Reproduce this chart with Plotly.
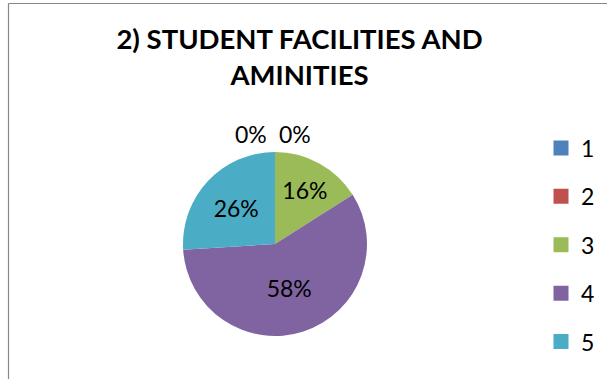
import math
import plotly.graph_objects as go

categories = ["1", "2", "3", "4", "5"]
values = [0, 0, 16, 58, 26]
colors = ["#4F81BD", "#C0504D", "#9BBB59", "#8064A2", "#4BACC6"]
title_text = "2) STUDENT FACILITIES AND<br>AMINITIES"

W, H = 607, 379
FONT = "Lato"


def px(X):
    return X / W


def py(Y):
    return 1 - Y / H


cx, cy, r = 275, 244, 92  # page pixels

total = sum(values)
inside_pos = ["none" if v == 0 else "inside" for v in values]

fig = go.Figure()
fig.add_trace(go.Pie(
    labels=categories,
    values=values,
    marker=dict(colors=colors, line=dict(color="white", width=0)),
    sort=False,
    direction="clockwise",
    rotation=0,
    texttemplate="%{percent:.0%}",
    textposition=inside_pos,
    insidetextorientation="horizontal",
    textfont=dict(family=FONT, size=23, color="black"),
    showlegend=False,
    hoverinfo="label+percent",
    domain=dict(x=[px(cx - r), px(cx + r)], y=[py(cy + r), py(cy - r)]),
))

for cat, col in zip(categories, colors):
    fig.add_trace(go.Scatter(
        x=[None], y=[None], mode="markers", name=cat, legendgroup=cat,
        marker=dict(symbol="square", size=15, color=col, line=dict(width=0)),
        showlegend=True, hoverinfo="skip",
    ))

annotations = []
zero_idx = [i for i, v in enumerate(values) if v == 0]
cum = 0.0
for i, v in enumerate(values):
    if v == 0:
        ang = cum / total * 2 * math.pi
        k = zero_idx.index(i)
        dx = (-24 if k == 0 else 20)
        ax = cx + (r + 18) * math.sin(ang) + dx
        ay = cy - (r + 18) * math.cos(ang)
        annotations.append(dict(
            text=f"{round(v / total * 100)}%", x=px(ax), y=py(ay),
            xref="paper", yref="paper", showarrow=False, xanchor="center", yanchor="middle",
            font=dict(family=FONT, size=23, color="black")))
    cum += v

fig.update_layout(
    width=W, height=H,
    margin=dict(l=0, r=0, t=0, b=0),
    paper_bgcolor="white",
    plot_bgcolor="white",
    font=dict(family=FONT, color="black"),
    xaxis=dict(visible=False),
    yaxis=dict(visible=False),
    title=dict(text=title_text, x=299.5 / W, xanchor="center",
               y=1 - 49 / H, yanchor="middle", yref="container",
               font=dict(family=FONT, size=27.5, color="black", weight="bold")),
    legend=dict(x=px(541), y=py(126.5), xanchor="left", yanchor="top",
                font=dict(family=FONT, size=23, color="black"),
                itemwidth=30, tracegroupgap=15.5, bgcolor="rgba(0,0,0,0)"),
    annotations=annotations,
    shapes=[
        dict(type="line", xref="paper", yref="paper", x0=px(8.5), x1=1, y0=py(3.5), y1=py(3.5),
             line=dict(color="#878787", width=1.2)),
        dict(type="line", xref="paper", yref="paper", x0=px(8.5), x1=px(8.5), y0=0, y1=py(3.5),
             line=dict(color="#878787", width=1.2)),
    ],
)

fig.write_html("out.html", config={"displayModeBar": False},
               post_script="document.body.style.margin='0px';")
